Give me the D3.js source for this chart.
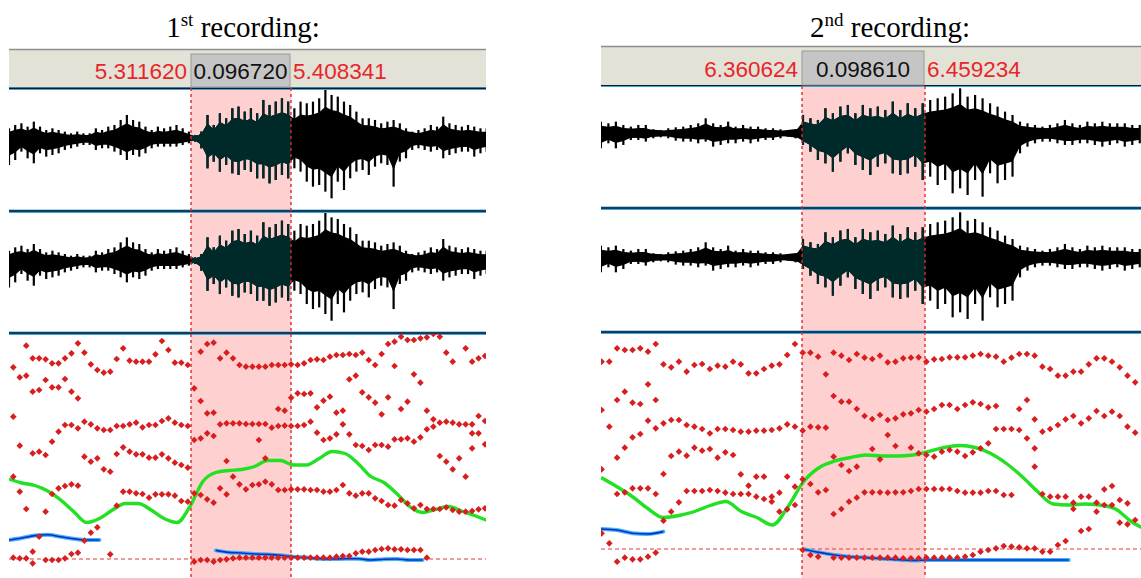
<!DOCTYPE html>
<html>
<head>
<meta charset="utf-8">
<script src="https://cdn.jsdelivr.net/npm/d3@7"></script>
<style>
  html, body { margin: 0; padding: 0; background: #fff; }
  svg { display: block; }
</style>
</head>
<body>
<div id="chart"></div>
<script>
// ---- selection readouts (seconds) ----
const ordinals = ["st", "nd"];
const selStart = [5.311620, 6.360624];
const selLength = [0.096720, 0.098610];
const selEnd = [5.408341, 6.459234];

// ---- formant tracks, one list of Hz values per analysis frame ----
const frameStart = [5.13975, 6.19996];
const frameStep = [0.00625, 0.0062];
const formants1 = [
  [6320,4840,3040,610],[6020,3970,2590,590],[6970,6070,2070,590],[6590,5590,3740,790,440],
  [6590,5640,3790,1240],[6560,5940,3690,1990,540],[6440,5720,4090,2520,540],[6440,5720,4390,2690,540],
  [6590,5970,4590,2760,590],[6740,5590,4590,2810,720],[7040,5390,4490,2770,760],[6760,4690,3640,1120],
  [6410,4610,3490,1360],[6240,4490,3590,1520],[6160,4440,3260],[6190,4440,3190,710],
  [6570,4560,3720,2170],[6890,4560,3920,2590],[6520,4610,3790,2590],[6490,4660,3710,2540],
  [6490,4520,3710,2520],[6490,4590,3610,2410],[6710,4590,3610,2510],[7110,4710,3710,2510],
  [6840,4790,3590,2510],[6460,4660,3460,2470],[6460,4590,3390,2310],[6390,4560,3310,2290],
  [5690,4140,2540,490],[6790,5310,4190,2490,540],[7020,4940,4340,2360,540],[7060,4960,4260,2260,490],
  [6590,4610,2690,540],[6760,4640,3510,2510,560],[6590,4640,3040,590],[6390,4640,2810,610],
  [6340,4620,2660,610],[6340,4620,2790,610],[6340,4620,4140,2810,610],[6340,4620,3590,2890,610],
  [6390,4510,2810,610],[6390,5070,4560,2640,610],[6390,5020,4570,2640,610],[6410,5410,4560,2660,610],
  [6390,5540,4560,2660,610],[6440,5520,4590,2660,610],[6540,5540,4690,2640,610],[6560,5120,4360,2640,610],
  [6540,5320,4140,2590,610],[6640,5440,4190,2590,610],[6690,4960,4310,2640,640],[6690,5020,4610,2790,660],
  [6720,5960,4310,2540,660],[6690,6070,3990,2470,740],[6760,5570,3960,2540,790],[6540,5420,3840,2540,790],
  [6390,5260,3990,2390,840],[6720,4910,3990,2310,870],[7020,5420,3940,2190,890],[7090,6360,4160,2170,860],
  [7240,5070,4160,2340,860],[7140,5290,4190,2240,840],[7140,6110,4090,2090,840],[7190,5860,4220,2190,840],
  [7220,5020,4460,2070,610],[7320,4760,4540,2070],[7240,4660,3660,2070],[6760,4690,3490,2120],
  [6490,4660,3260,2040],[4610,3590,1990],[6890,4610,3040,1990],[6490,4610,4340,3890,2010],
  [6590,4860,4340,2060],[6660,4710,4010,2090]
];
const formants2 = [
  [6490,5040,3260,1340],[6490,4540,1040],[6890,5340,3610,2520,490],[6840,5590,3910,2570,610],
  [6840,5260,4220,2690,560],[6890,5220,4320,2690,560],[6790,5810,4720,2690,640],[7020,5340,4490,2520,760],
  [6410,4640,3120,1720],[6320,4740,3660,1990],[6490,4740,3790,2270],[6190,4590,3670,2610],
  [6390,4540,3910,2610],[6420,4470,3820,2610],[6270,4340,3870,2640],[6370,4470,3610,2610],
  [6340,4470,3770,2560],[6490,4440,3690,2520],[6410,4390,3110,2520],[6140,4390,2770,2520],
  [6140,4420,3040,2440],[6270,4420,3040,2370],[6370,4440,2440,2290],[6410,4490,2560,1990],
  [6690,4610,3040,2060],[7020,4540,2740,2190],[6760,4420,2960,840],[6760,4540,2820,690],
  [6640,4520,2570,640],[6110,4510,2640],[6760,5460,3640,1920,610],[6670,5290,3390,2070,610],
  [6540,5290,3210,2290,610],[6720,5070,3340,2410,610],[6610,4860,2570,610],[6570,4770,3870,2570,610],
  [6670,4890,3560,2570,610],[6470,4740,4290,2560,610],[6490,4790,3960,2570,610],[6590,4910,2570,590],
  [6610,4940,3910,2610,590],[6620,5040,3740,2670,590],[6490,4990,3690,2670,610],[6560,5070,3640,2670,610],
  [6570,5190,3790,2670,610],[6620,5190,3840,2670,610],[6620,5070,3790,2610,610],[6620,5190,3660,2560,640],
  [6670,5270,3770,2560,690],[6720,5220,3890,2560,790],[6670,5120,4040,2610,840],[6640,5160,4470,2610,890],
  [6490,4470,2490,960],[6610,4470,2490,940],[6720,5070,4440,920],[6720,5340,4190,890],
  [6670,4760,3890,3340,890],[6340,4390,2520,790],[6270,4470,2440,790],[6070,4590,2440,990],
  [6070,4760,2440,1110],[6190,4860,2260,2070],[6190,4640,2440,1410],[6410,4790,2440,1470],
  [6590,5010,2260,1990],[6590,4860,2660,2190],[6490,4990,2760,2190],[6320,4860,2340,1660],
  [6070,4540,2240,1610],[5870,4360,1740]
];
const refLine = [570, 870];   // dashed reference, Hz

// ---- pitch (Hz) and intensity (dB), sampled every 12.5 ms ----
const curveStart = [5.13559, 6.19948];
const curveStep = 0.0125;
const pitch1 = [198,190,185,174,156,133,111,119,136,149,149,136,119,111,143,193,211,215,217,223,
  235,235,226,226,239,253,249,229,203,191,169,143,131,137,143,134,125,115];
const pitch2 = [201,183,163,139,121,125,133,145,153,133,121,106,143,193,221,234,241,246,244,244,
  246,253,261,265,261,249,229,203,173,148,146,148,146,138,113,96];
const intensity1 = [49.5,50.0,50.6,50.8,50.3,49.8,49.5,49.5,null,null,null,null,null,null,null,null,
  46.9,46.4,46.25,46.0,45.9,45.7,45.3,45.1,44.8,44.75,44.8,44.8,44.5,44.7,44.75,44.5,44.5,
  null,null,null,null,null];
const intensity2 = [52.25,52.0,51.2,51.0,51.6,null,null,null,null,null,null,null,null,
  47.2,46.4,45.75,45.3,45.1,44.8,44.6,44.4,44.5,44.5,44.5,44.5,44.5,44.5,44.5,44.5,44.5,44.5,
  null,null,null,null,null];

// ---- waveform peaks (positive / negative), every 6 ms, and dense core every 18 ms ----
const waveStart = [5.13559, 6.19940];
const waveStep = 0.006;
const coreStep = 0.018;
const waveUp1 = [30,40,45,35,50,35,25,30,25,20,15,20,15,15,30,25,35,40,55,70,55,50,35,25,35,30,35,40,30,20,
  10,20,70,40,75,60,90,95,80,90,75,115,100,110,120,110,90,110,105,110,120,145,130,125,110,100,80,60,60,55,
  45,50,55,45,30,20,25,30,40,35,65,45,40,35,40,35,30,30];
const waveDn1 = [80,65,40,60,75,45,55,50,45,35,30,25,20,20,35,30,30,40,50,65,50,55,45,30,25,25,25,25,20,15,
  10,30,90,70,100,80,105,110,95,100,120,120,135,125,110,120,90,100,130,145,140,160,180,130,155,120,100,95,110,85,
  75,80,145,70,60,35,30,35,40,35,60,50,45,40,40,55,45,40];
const waveCore1 = [15,15,12,10,8,15,25,25,15,15,6,25,30,35,40,45,55,65,55,40,30,25,15,18,18,18,18];
const waveUp2 = [35,30,35,25,20,25,25,12,10,15,18,20,25,30,45,30,25,35,20,25,20,20,15,15,12,8,10,55,45,40,
  75,60,80,85,60,85,75,80,70,95,70,90,75,90,100,105,110,120,135,110,115,105,90,80,65,55,35,30,25,20,
  25,30,40,30,25,35,30,35,30,30,30,25,25];
const waveDn2 = [45,30,45,35,20,20,25,15,12,15,22,25,25,30,25,40,35,30,30,25,30,25,20,20,15,10,15,35,55,80,
  90,115,85,60,95,110,125,100,90,120,125,120,100,140,130,155,140,180,165,185,140,190,120,150,140,130,60,40,30,25,
  25,30,35,35,30,30,35,40,35,30,40,35,30];
const waveCore2 = [15,15,12,8,15,20,15,12,8,15,30,35,35,40,40,55,60,45,30,18,15,15,15,15,15];

const W = 1141, H = 578;
const svg = d3.select("#chart").append("svg")
  .attr("width", W)
  .attr("height", H)
  .attr("viewBox", `0 0 ${W} ${H}`);

svg.append("rect").attr("width", W).attr("height", H).attr("fill", "#fff");

const defs = svg.append("defs");

const layout = [
  {x0: 9, x1: 486, titleX: 243, headTop: 49, headBottom: 88, selPx: [191, 291], divs: [89, 211, 333], waveC: [138.3, 260.7]},
  {x0: 601, x1: 1141, titleX: 890, headTop: 46, headBottom: 86, selPx: [802, 925], divs: [86, 208, 332], waveC: [133.3, 257.3]}
];
const formantSets = [formants1, formants2];
const pitchSets = [pitch1, pitch2];
const intensitySets = [intensity1, intensity2];
const waveSets = [[waveUp1, waveDn1, waveCore1], [waveUp2, waveDn2, waveCore2]];

// shared vertical scales for the analysis pane
const yFormant = d3.scaleLinear().domain([0, 7320]).range([578, 334]);
const yPitch = d3.scaleLinear().domain([0, 488]).range([578, 334]);
const yIntensity = d3.scaleLinear().domain([40, 101]).range([578, 334]);

const diamond = d3.symbol().type(d3.symbolSquare).size(22)();

layout.forEach((p, i) => {
  const x = d3.scaleLinear().domain([selStart[i], selEnd[i]]).range(p.selPx);
  const g = svg.append("g");

  defs.append("clipPath").attr("id", "panel" + i)
    .append("rect").attr("x", p.x0).attr("y", 0).attr("width", p.x1 - p.x0).attr("height", H);
  defs.append("clipPath").attr("id", "sel" + i)
    .append("rect").attr("x", x(selStart[i])).attr("y", 0)
    .attr("width", x(selEnd[i]) - x(selStart[i])).attr("height", H);
  defs.append("clipPath").attr("id", "plot" + i)
    .append("rect").attr("x", p.x0).attr("y", p.divs[2] + 1).attr("width", p.x1 - p.x0).attr("height", H - p.divs[2]);

  const body = g.append("g").attr("clip-path", `url(#panel${i})`);

  // selection shading
  body.append("rect")
    .attr("x", x(selStart[i]))
    .attr("y", p.headBottom)
    .attr("width", x(selEnd[i]) - x(selStart[i]))
    .attr("height", H - p.headBottom)
    .attr("fill", "#ffd0d0");

  // waveforms (two identical channels)
  const [up, dn, core] = waveSets[i];
  p.waveC.forEach(c => {
    const amp = d3.scaleLinear().domain([-200, 200]).range([c + 66.7, c - 66.7]);
    const dense = d3.area()
      .x((d, k) => x(waveStart[i] + k * coreStep))
      .y0(d => amp(-d))
      .y1(d => amp(d));
    // ragged body: the peaks joined at about two thirds of their height
    const ragged = d3.area()
      .x((d, k) => x(waveStart[i] + k * waveStep))
      .y0((d, k) => amp(-dn[k] * 0.65))
      .y1(d => amp(d * 0.65));

    body.append("line")
      .attr("x1", p.x0).attr("x2", p.x1)
      .attr("y1", c).attr("y2", c)
      .attr("stroke", "#2a8fd0").attr("stroke-width", 1);

    [["#000", null], ["#002a2a", `url(#sel${i})`]].forEach(([col, clip]) => {
      const wg = body.append("g").attr("clip-path", clip);
      wg.append("path").datum(core).attr("d", dense).attr("fill", col);
      wg.append("path").datum(up).attr("d", ragged).attr("fill", col);
      wg.selectAll("line.spike")
        .data(up)
        .join("line")
        .attr("class", "spike")
        .attr("x1", (d, k) => x(waveStart[i] + k * waveStep))
        .attr("x2", (d, k) => x(waveStart[i] + k * waveStep))
        .attr("y1", d => amp(d))
        .attr("y2", (d, k) => amp(-dn[k]))
        .attr("stroke", col)
        .attr("stroke-width", 2.2);
    });
  });

  // pane dividers
  p.divs.forEach((yy, k) => {
    body.append("rect").attr("x", p.x0).attr("y", yy - 1.5).attr("width", p.x1 - p.x0)
      .attr("height", k === 0 ? 2.5 : 3.5).attr("fill", "#3fa6e0");
    body.append("line").attr("x1", p.x0).attr("x2", p.x1)
      .attr("y1", k === 0 ? yy - 0.8 : yy).attr("y2", k === 0 ? yy - 0.8 : yy)
      .attr("stroke", "#0b1a26").attr("stroke-width", 1.4);
  });

  const plot = body.append("g").attr("clip-path", `url(#plot${i})`);

  // reference dashed line
  plot.append("line")
    .attr("x1", p.x0).attr("x2", p.x1)
    .attr("y1", yFormant(refLine[i])).attr("y2", yFormant(refLine[i]))
    .attr("stroke", "#e03a3a").attr("stroke-width", 1.1).attr("stroke-dasharray", "4,3");

  // intensity
  const intLine = d3.line()
    .defined(d => d !== null)
    .x((d, k) => x(curveStart[i] + k * curveStep))
    .y(d => yIntensity(d))
    .curve(d3.curveMonotoneX);
  plot.append("path").datum(intensitySets[i]).attr("d", intLine)
    .attr("fill", "none").attr("stroke", "#45b4f5").attr("stroke-width", 4).attr("stroke-linecap", "round");
  plot.append("path").datum(intensitySets[i]).attr("d", intLine)
    .attr("fill", "none").attr("stroke", "#0a2fc8").attr("stroke-width", 1.6);

  // pitch
  const pitchLine = d3.line()
    .x((d, k) => x(curveStart[i] + k * curveStep))
    .y(d => yPitch(d))
    .curve(d3.curveMonotoneX);
  plot.append("path").datum(pitchSets[i]).attr("d", pitchLine)
    .attr("fill", "none").attr("stroke", "#22e022").attr("stroke-width", 3.4);

  // formant dots
  const pts = [];
  formantSets[i].forEach((fr, k) => fr.forEach(v => pts.push({t: frameStart[i] + k * frameStep[i], v})));
  plot.selectAll("path.dot")
    .data(pts)
    .join("path")
    .attr("class", "dot")
    .attr("d", diamond)
    .attr("transform", d => `translate(${x(d.t)},${yFormant(d.v)}) rotate(45)`)
    .attr("fill", "#d81e1e");

  // selection edges
  [selStart[i], selEnd[i]].forEach(t => {
    body.append("line")
      .attr("x1", x(t)).attr("x2", x(t))
      .attr("y1", p.headBottom).attr("y2", H)
      .attr("stroke", "#e02a2a").attr("stroke-width", 1.4).attr("stroke-dasharray", "3,3");
  });

  // header bar
  g.append("rect")
    .attr("x", p.x0).attr("y", p.headTop)
    .attr("width", p.x1 - p.x0).attr("height", p.headBottom - p.headTop - 1)
    .attr("fill", "#e3e2d6");
  g.append("line")
    .attr("x1", p.x0).attr("x2", p.x1)
    .attr("y1", p.headTop + 0.5).attr("y2", p.headTop + 0.5)
    .attr("stroke", "#8e8e8e").attr("stroke-width", 1.5);

  const bx0 = x(selStart[i]), bx1 = x(selEnd[i]) - 1;
  g.append("rect")
    .attr("x", bx0).attr("y", p.headTop + 5)
    .attr("width", bx1 - bx0).attr("height", p.headBottom - p.headTop - 6)
    .attr("fill", "#c5c5c5").attr("stroke", "#9a9a9a").attr("stroke-width", 1);

  const baseY = p.headBottom - 9;
  const numFont = "'Liberation Sans', Arial, sans-serif";
  g.append("text")
    .attr("x", bx0 - 4).attr("y", baseY)
    .attr("text-anchor", "end")
    .style("font-family", numFont).style("font-size", "22.5px")
    .attr("fill", "#e8262a")
    .text(selStart[i].toFixed(6));
  g.append("text")
    .attr("x", (bx0 + bx1) / 2).attr("y", baseY)
    .attr("text-anchor", "middle")
    .style("font-family", numFont).style("font-size", "22.5px")
    .attr("fill", "#111")
    .text(selLength[i].toFixed(6));
  g.append("text")
    .attr("x", bx1 + 3).attr("y", baseY)
    .attr("text-anchor", "start")
    .style("font-family", numFont).style("font-size", "22.5px")
    .attr("fill", "#e8262a")
    .text(selEnd[i].toFixed(6));

  // title
  const title = g.append("text")
    .attr("x", p.titleX).attr("y", 37)
    .attr("text-anchor", "middle")
    .style("font-family", "'Liberation Serif', 'Times New Roman', serif")
    .style("font-size", "29px")
    .attr("fill", "#000");
  title.append("tspan").text(String(i + 1));
  title.append("tspan").attr("dy", -11).style("font-size", "19px").text(ordinals[i]);
  title.append("tspan").attr("dy", 11).text(" recording:");
});
</script>
</body>
</html>
